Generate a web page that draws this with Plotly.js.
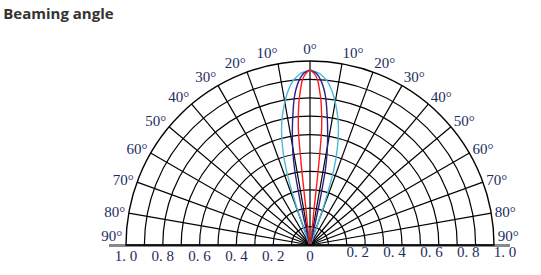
<!DOCTYPE html>
<html>
<head>
<meta charset="utf-8">
<script src="https://cdn.plot.ly/plotly-3.0.1.min.js"></script>
<style>html,body{margin:0;padding:0;background:#fff;}#chart{width:541px;height:275px;}</style>
</head>
<body>
<div id="chart"></div>
<script>
// Relative intensity curves (theta in degrees from beam axis, r relative 0..1)
const cyanTheta = [-21.5,-21,-20,-19,-17.5,-16,-14,-12,-9,-6,-3,0,3,6,9,12,14,16,17.5,19,20,21,21.5];
const cyanR     = [0,0.06,0.16,0.27,0.43,0.535,0.64,0.72,0.82,0.895,0.935,0.95,0.935,0.895,0.82,0.72,0.64,0.535,0.43,0.27,0.16,0.06,0];

const blueTheta = [-14.1,-13.8,-13.2,-12.5,-11.5,-10.5,-9.5,-8,-6,-4,-2,0,2,4,6,8,9.5,10.5,11.5,12.5,13.2,13.8,14.1];
const blueR     = [0,0.05,0.15,0.26,0.42,0.51,0.58,0.68,0.81,0.89,0.935,0.95,0.935,0.89,0.81,0.68,0.58,0.51,0.42,0.26,0.15,0.05,0];

const redTheta  = [-6.6,-6.45,-6.3,-6.1,-5.8,-5.2,-4.3,-3.5,-2.7,-1.5,0,1.5,2.7,3.5,4.3,5.2,5.8,6.1,6.3,6.45,6.6];
const redR      = [0,0.2,0.37,0.5,0.62,0.70,0.79,0.845,0.895,0.93,0.95,0.93,0.895,0.845,0.79,0.70,0.62,0.5,0.37,0.2,0];

// Angular tick labels (0° at top, degrees on each side)
const angTickVals = [-90,-80,-70,-60,-50,-40,-30,-20,-10,0,10,20,30,40,50,60,70,80,90];
const angTickText = ['90°<br> ','80°','70°','60°','50°','40°','30°','20°','10°','0°','10°','20°','30°','40°','50°','60°','70°','80°','90°<br> '];

// Radial grid and bottom scale labels
const radialGrid = [0.1,0.2,0.3,0.4,0.5,0.6,0.7,0.8,0.9,1.0];
const leftTickVals  = [-1,-0.8,-0.6,-0.4,-0.2,0];
const leftTickText  = ['1. 0','0. 8','0. 6','0. 4','0. 2','0'];
const rightTickVals = [0.2,0.4,0.6,0.8,1.0];
const rightTickText = ['0. 2','0. 4','0. 6','0. 8','1. 0'];

const W = 541, H = 275;
const cx = 310, cy = 245, R = 184;

const labelFont = {family:'Liberation Serif, DejaVu Serif, serif', size:15, color:'#1d2b5e'};

function curve(theta, r, color){
  return {type:'scatterpolar', theta:theta, r:r, mode:'lines',
    line:{color:color, width:1.4, shape:'spline', smoothing:0.6},
    hoverinfo:'skip', showlegend:false};
}

const data = [
  {type:'scatter', x:[], y:[], xaxis:'x', yaxis:'y', showlegend:false, hoverinfo:'skip'},
  {type:'scatter', x:[], y:[], xaxis:'x2', yaxis:'y', showlegend:false, hoverinfo:'skip'},
  curve(cyanTheta, cyanR, '#4db8d6'),
  curve(blueTheta, blueR, '#2a1f8a'),
  curve(redTheta, redR, '#ff1a1a')
];

const xl = 109, xr = 510;
const layout = {
  width:W, height:H,
  margin:{l:0,r:0,t:0,b:0},
  paper_bgcolor:'#fff', plot_bgcolor:'rgba(0,0,0,0)',
  title:{text:'Beaming angle', x:0.006, xanchor:'left', xref:'paper', y:1-14/H, yanchor:'middle', yref:'container',
    font:{family:'Open Sans, sans-serif', size:15, weight:700, color:'#333333'}},
  polar:{
    domain:{x:[(cx-R)/W,(cx+R)/W], y:[(H-cy)/H,(H-cy+R)/H]},
    sector:[0,180],
    bgcolor:'#fff',
    angularaxis:{rotation:90, direction:'clockwise', tickmode:'array', tickvals:angTickVals, ticktext:angTickText,
      showgrid:true, gridcolor:'#000', gridwidth:1.2, showline:true, linecolor:'#000', linewidth:1.4,
      ticks:'', tickfont:labelFont},
    radialaxis:{range:[0,1], tickmode:'array', tickvals:radialGrid, showticklabels:false, ticks:'',
      showline:false, showgrid:true, gridcolor:'#000', gridwidth:1.2}
  },
  xaxis:{domain:[xl/W,xr/W], range:[(xl-cx)/R,(xr-cx)/R], anchor:'free', position:(H-cy)/H,
    showgrid:false, zeroline:false, showline:true, linecolor:'#8a8a8a', linewidth:2.5,
    tickmode:'array', tickvals:leftTickVals, ticktext:leftTickText, ticks:'', ticklabelstandoff:-4, tickfont:labelFont, fixedrange:true},
  xaxis2:{domain:[xl/W,xr/W], range:[(xl-cx)/R,(xr-cx)/R], anchor:'free', position:(H-cy)/H, overlaying:'x',
    showgrid:false, zeroline:false, showline:false,
    tickmode:'array', tickvals:rightTickVals, ticktext:rightTickText, ticks:'', ticklabelshift:11, ticklabelstandoff:-4, tickfont:labelFont, fixedrange:true},
  yaxis:{domain:[(H-cy)/H,(H-cy+R)/H], range:[0,1], visible:false, fixedrange:true}
};

Plotly.newPlot('chart', data, layout, {displayModeBar:false, staticPlot:true});
</script>
</body>
</html>
